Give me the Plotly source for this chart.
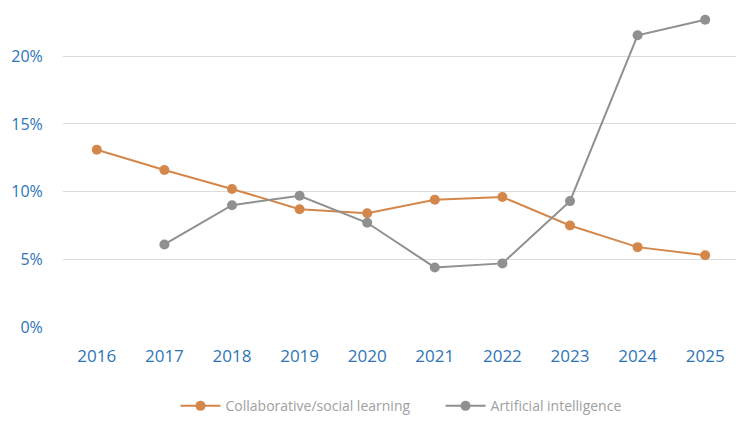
import plotly.graph_objects as go

years = ["2016", "2017", "2018", "2019", "2020", "2021", "2022", "2023", "2024", "2025"]
collab = [13.1, 11.6, 10.2, 8.7, 8.4, 9.4, 9.6, 7.5, 5.9, 5.3]
ai = [None, 6.1, 9.0, 9.7, 7.7, 4.4, 4.7, 9.3, 21.55, 22.7]
y_ticks = [0, 5, 10, 15, 20]
y_labels = ["0%", "5%", "10%", "15%", "20%"]

fig = go.Figure()
fig.add_trace(go.Scatter(x=years, y=collab, mode="lines+markers",
                         name="Collaborative/social learning" + "\u00a0" * 7,
                         line=dict(color="#D4874B", width=2), marker=dict(size=10, color="#D4874B")))
fig.add_trace(go.Scatter(x=years, y=ai, mode="lines+markers", name="Artificial intelligence",
                         line=dict(color="#8E9190", width=2), marker=dict(size=10, color="#8E9190")))

fig.update_layout(
    width=744, height=435,
    margin=dict(l=55, r=13, t=2, b=116),
    plot_bgcolor="white", paper_bgcolor="white",
    font=dict(family="Open Sans, sans-serif"),
    showlegend=True,
    legend=dict(orientation="h", x=0.5, xanchor="center", y=-0.25, yanchor="middle",
                font=dict(size=14, color="#A0A0A0"), itemwidth=40),
)
fig.update_xaxes(type="category", range=[-0.5, 9.5], showgrid=False, zeroline=False, showline=False,
                 automargin=False,
                 tickfont=dict(size=17, color="#2E75B6"), ticks="outside", ticklen=14, tickcolor="white")
fig.update_yaxes(range=[0, 23.42], tickvals=y_ticks, ticktext=y_labels, showgrid=True, automargin=False,
                 gridcolor="#DCDCDC", gridwidth=1, zeroline=False, showline=False,
                 tickfont=dict(size=16, color="#2E75B6"), ticks="outside", ticklen=16, tickcolor="white")

fig.write_html("out.html")
